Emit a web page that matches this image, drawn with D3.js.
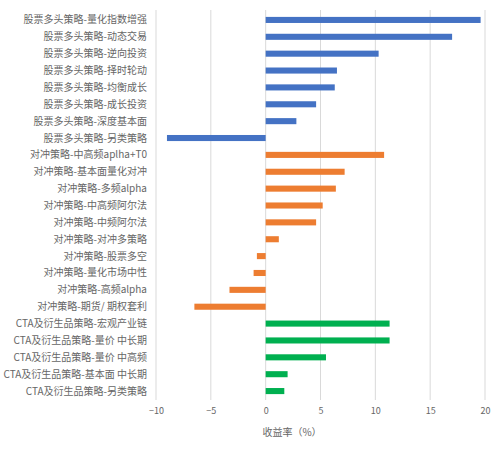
<!doctype html>
<html>
<head>
<meta charset="utf-8">
<script src="https://cdn.jsdelivr.net/npm/d3@7"></script>
<style>
	body { margin: 0; background: #fff; }
	text { font-family: "Noto Sans CJK SC", "Microsoft YaHei", sans-serif; fill: #666; }
</style>
</head>
<body>
<script>
// strategies, top to bottom
var categories = [
	"股票多头策略-量化指数增强", "股票多头策略-动态交易", "股票多头策略-逆向投资",
	"股票多头策略-择时轮动", "股票多头策略-均衡成长", "股票多头策略-成长投资",
	"股票多头策略-深度基本面", "股票多头策略-另类策略",
	"对冲策略-中高频aplha+T0", "对冲策略-基本面量化对冲", "对冲策略-多频alpha",
	"对冲策略-中高频阿尔法", "对冲策略-中频阿尔法", "对冲策略-对冲多策略",
	"对冲策略-股票多空", "对冲策略-量化市场中性", "对冲策略-高频alpha",
	"对冲策略-期货/ 期权套利",
	"CTA及衍生品策略-宏观产业链", "CTA及衍生品策略-量价 中长期",
	"CTA及衍生品策略-量价 中高频", "CTA及衍生品策略-基本面 中长期",
	"CTA及衍生品策略-另类策略"
]
var values = [19.6, 17.0, 10.3, 6.5, 6.3, 4.6, 2.8, -9.0,
	10.8, 7.2, 6.4, 5.2, 4.6, 1.2, -0.8, -1.1, -3.3, -6.5,
	11.3, 11.3, 5.5, 2.0, 1.7]
var groups = ["stock", "stock", "stock", "stock", "stock", "stock", "stock", "stock",
	"hedge", "hedge", "hedge", "hedge", "hedge", "hedge", "hedge", "hedge", "hedge", "hedge",
	"cta", "cta", "cta", "cta", "cta"]
var ticks = [-10, -5, 0, 5, 10, 15, 20]

var width = 500
var height = 455
var svg = d3.select("body").append("svg")
	.attr("width", width)
	.attr("height", height)

var x = d3.scaleLinear().domain([-10, 20]).range([156, 485])
var y = d3.scaleBand().domain(categories).range([11.5, 399.5]).paddingInner(0.64).paddingOuter(0.32)
var color = d3.scaleOrdinal().domain(["stock", "hedge", "cta"]).range(["#4472C4", "#ED7D31", "#00B050"])

// gridlines
svg.selectAll("line.grid")
	.data(ticks)
	.enter()
	.append("line")
	.attr("class", "grid")
	.attr("x1", function(d) { return x(d) })
	.attr("x2", function(d) { return x(d) })
	.attr("y1", 10)
	.attr("y2", 400)
	.attr("stroke", "#d9d9d9")
	.attr("stroke-width", 1)

svg.selectAll("rect")
	.data(values)
	.enter()
	.append("rect")
	.attr("x", function(d) { return x(Math.min(0, d)) })
	.attr("y", function(d, i) { return y(categories[i]) })
	.attr("width", function(d) { return Math.abs(x(d) - x(0)) })
	.attr("height", y.bandwidth())
	.attr("fill", function(d, i) { return color(groups[i]) })

// category labels
svg.selectAll("text.cat")
	.data(categories)
	.enter()
	.append("text")
	.attr("class", "cat")
	.attr("x", 147)
	.attr("y", function(d) { return y(d) + y.bandwidth() / 2 })
	.attr("dy", "0.35em")
	.attr("text-anchor", "end")
	.attr("font-size", 10)
	.text(function(d) { return d })

// x axis
var xAxis = d3.axisBottom(x).tickValues(ticks).tickSize(0).tickPadding(0)
var gx = svg.append("g")
	.attr("transform", "translate(0,408)")
	.call(xAxis)
gx.select(".domain").remove()
gx.selectAll("text")
	.attr("font-size", 9)
	.attr("dy", "0.71em")
	.style("fill", "#666")
	.attr("font-family", "\"Noto Sans CJK SC\", sans-serif")

svg.append("text")
	.attr("x", 292)
	.attr("y", 432)
	.attr("dy", "0.35em")
	.attr("text-anchor", "middle")
	.attr("font-size", 10)
	.text("收益率（%）")
</script>
</body>
</html>
